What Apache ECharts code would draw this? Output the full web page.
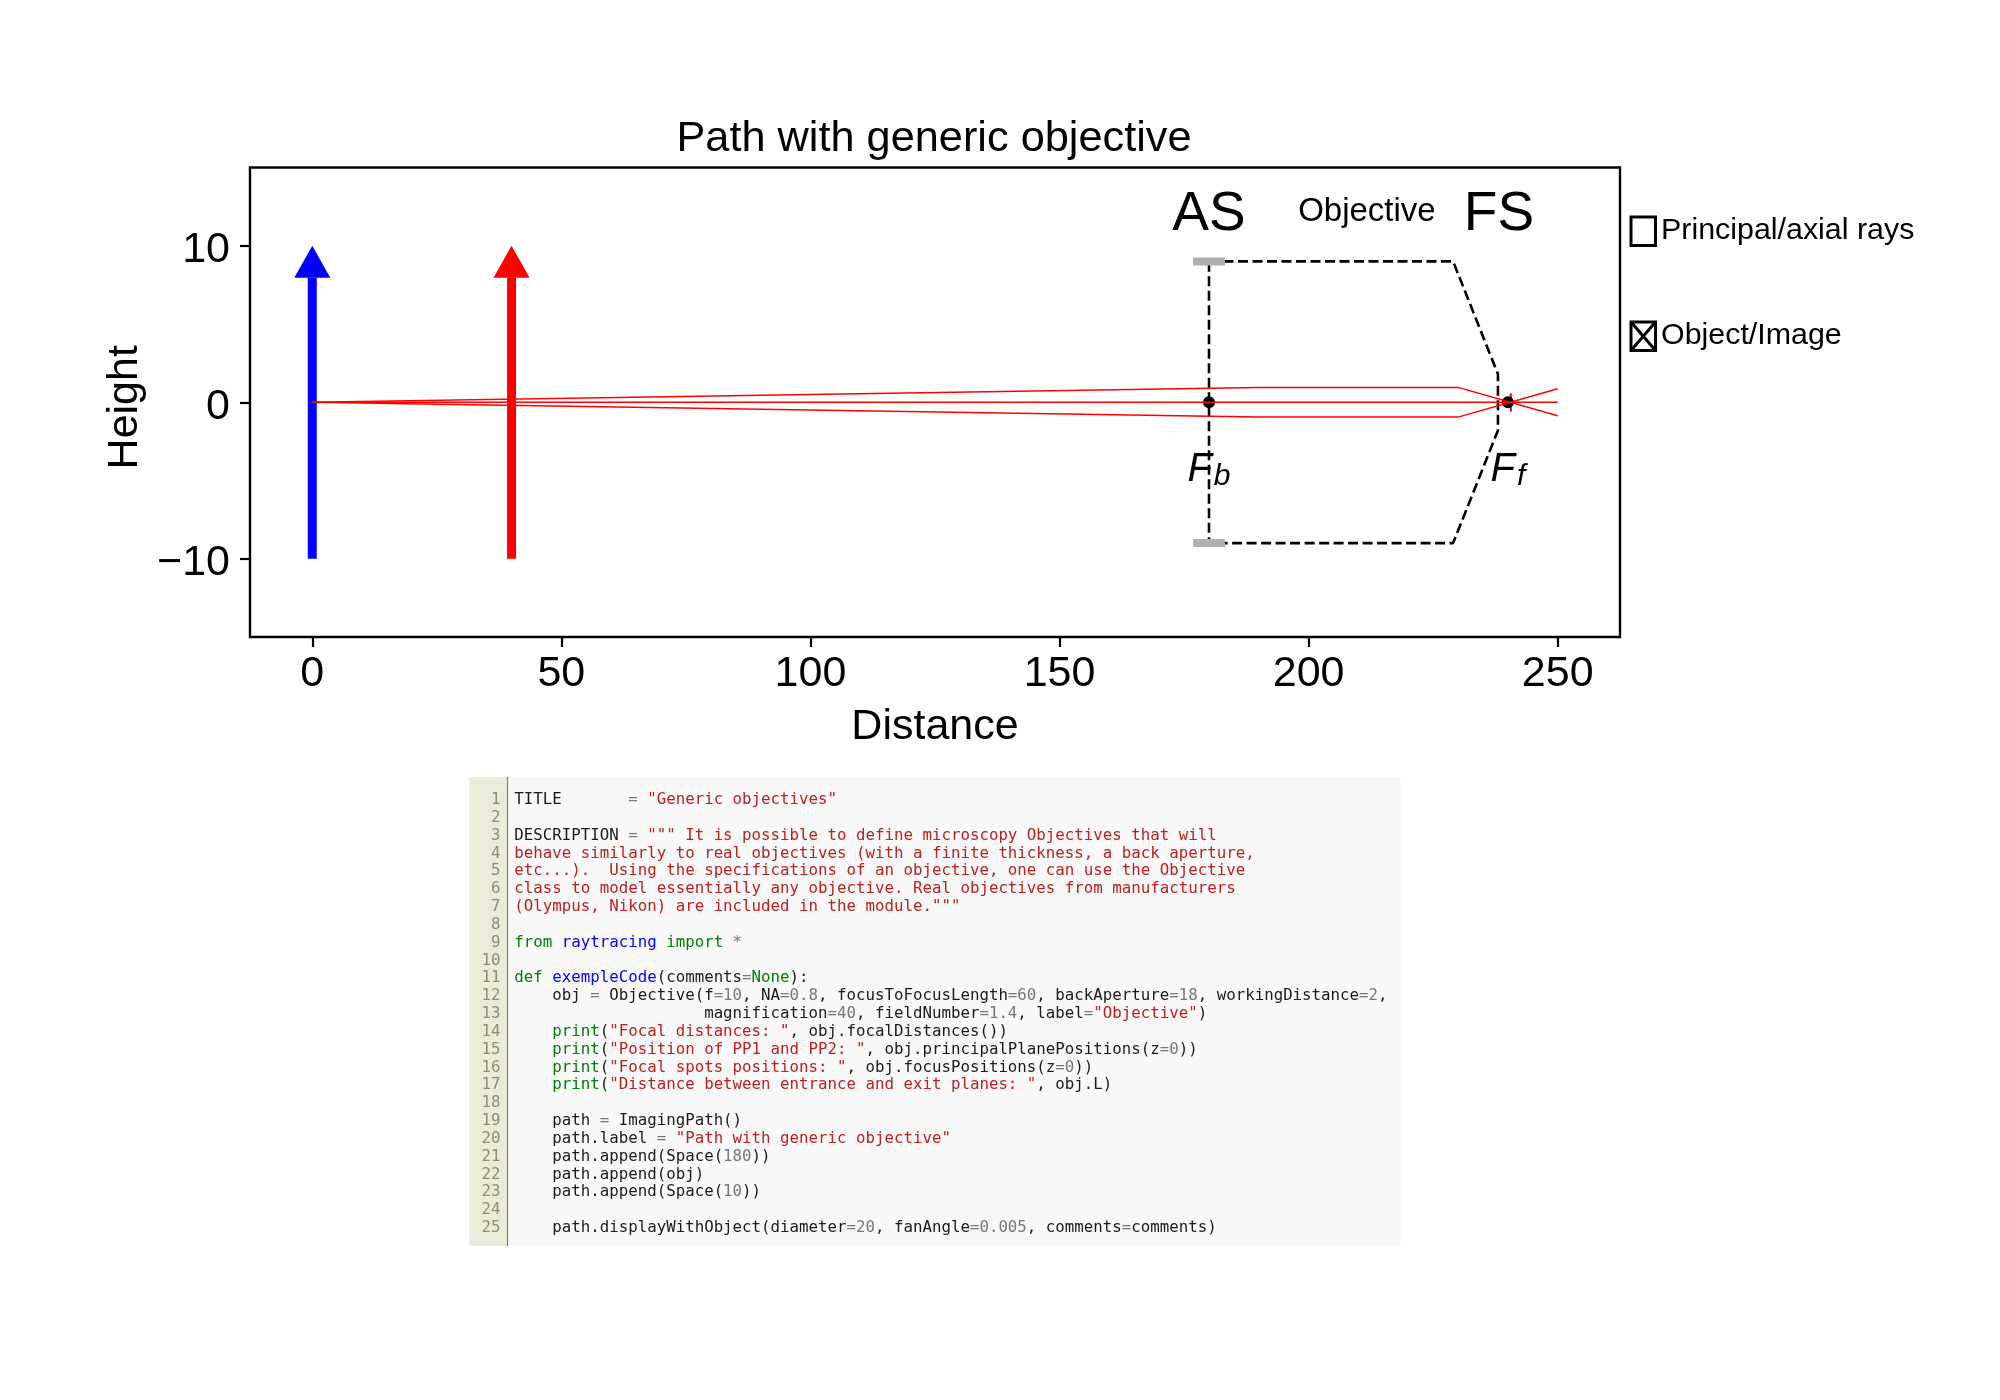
<!DOCTYPE html>
<html>
<head>
<meta charset="utf-8">
<style>html,body{margin:0;background:#fff}#chart{width:2000px;height:1400px}</style>
<script src="https://cdn.jsdelivr.net/npm/echarts@6/dist/echarts.min.js"></script>
</head>
<body>
<div id="chart"></div>
<script>
var xTicks = [0, 50, 100, 150, 200, 250];
var yTicks = [-10, 0, 10];

// rays through the system
var rayUpper = [[0, 0], [190, 0.95], [230, 0.95], [250, -0.86]];
var rayAxial = [[0, 0], [250, 0]];
var rayLower = [[0, 0], [190, -0.95], [230, -0.95], [250, 0.86]];

// objective outline and aperture stops
var objectiveOutline = [[180, 9], [229, 9], [238, 1.8], [238, -1.8], [229, -9], [180, -9], [180, 9]];
var stopTop = [[176.8, 9], [183.2, 9]];
var stopBottom = [[176.8, -9], [183.2, -9]];
var focusPoints = [[180, 0], [240, 0]];

// x, y bottom, y top
var objectArrow = [[0, -10, 10]];
var imageArrow = [[40, -10, 10]];
var focusArrow = [[240.6, -0.6, 0.6]];

var codeLines = [
  [['k', 'TITLE       '], ['o', '= '], ['s', '"Generic objectives"']],
  [],
  [['k', 'DESCRIPTION '], ['o', '= '], ['s', '""" It is possible to define microscopy Objectives that will']],
  [['s', 'behave similarly to real objectives (with a finite thickness, a back aperture,']],
  [['s', 'etc...).  Using the specifications of an objective, one can use the Objective']],
  [['s', 'class to model essentially any objective. Real objectives from manufacturers']],
  [['s', '(Olympus, Nikon) are included in the module."""']],
  [],
  [['g', 'from '], ['b', 'raytracing '], ['g', 'import '], ['o', '*']],
  [],
  [['g', 'def '], ['b', 'exempleCode'], ['k', '(comments'], ['o', '='], ['g', 'None'], ['k', '):']],
  [['k', '    obj '], ['o', '= '], ['k', 'Objective(f'], ['o', '=10'], ['k', ', NA'], ['o', '=0.8'], ['k', ', focusToFocusLength'], ['o', '=60'], ['k', ', backAperture'], ['o', '=18'], ['k', ', workingDistance'], ['o', '=2'], ['k', ',']],
  [['k', '                    magnification'], ['o', '=40'], ['k', ', fieldNumber'], ['o', '=1.4'], ['k', ', label'], ['o', '='], ['s', '"Objective"'], ['k', ')']],
  [['g', '    print'], ['k', '('], ['s', '"Focal distances: "'], ['k', ', obj.focalDistances())']],
  [['g', '    print'], ['k', '('], ['s', '"Position of PP1 and PP2: "'], ['k', ', obj.principalPlanePositions(z'], ['o', '=0'], ['k', '))']],
  [['g', '    print'], ['k', '('], ['s', '"Focal spots positions: "'], ['k', ', obj.focusPositions(z'], ['o', '=0'], ['k', '))']],
  [['g', '    print'], ['k', '('], ['s', '"Distance between entrance and exit planes: "'], ['k', ', obj.L)']],
  [],
  [['k', '    path '], ['o', '= '], ['k', 'ImagingPath()']],
  [['k', '    path.label '], ['o', '= '], ['s', '"Path with generic objective"']],
  [['k', '    path.append(Space('], ['o', '180'], ['k', '))']],
  [['k', '    path.append(obj)']],
  [['k', '    path.append(Space('], ['o', '10'], ['k', '))']],
  [],
  [['k', '    path.displayWithObject(diameter'], ['o', '=20'], ['k', ', fanAngle'], ['o', '=0.005'], ['k', ', comments'], ['o', '='], ['k', 'comments)']]
];

var sansFont = '"Liberation Sans", Helvetica, Arial, sans-serif';
var monoFont = '"DejaVu Sans Mono", monospace';
var codeColors = { k: '#1a1a1a', o: '#777777', s: '#BA2121', g: '#008000', b: '#0000FF' };

function raySeries(data) {
  return { type: 'line', data: data, showSymbol: false, silent: true, z: 4, lineStyle: { color: '#ff0000', width: 1.5 } };
}

function stopSeries(data) {
  return { type: 'line', data: data, showSymbol: false, silent: true, z: 5, lineStyle: { color: '#b0b0b0', width: 8, cap: 'butt' } };
}

// vertical arrow: shaft plus triangular head, sizes in pixels
function arrowSeries(data, color, shaftW, headW, headH) {
  return {
    type: 'custom',
    data: data,
    z: 3,
    silent: true,
    renderItem: function (params, api) {
      var bottom = api.coord([api.value(0), api.value(1)]);
      var top = api.coord([api.value(0), api.value(2)]);
      return {
        type: 'group',
        children: [
          { type: 'rect', shape: { x: bottom[0] - shaftW / 2, y: top[1] + headH, width: shaftW, height: bottom[1] - top[1] - headH }, style: { fill: color } },
          { type: 'polygon', shape: { points: [[top[0], top[1]], [top[0] - headW / 2, top[1] + headH], [top[0] + headW / 2, top[1] + headH]] }, style: { fill: color } }
        ]
      };
    },
    encode: { x: 0, y: [1, 2] }
  };
}

function note(x, y, text, size) {
  return { value: [x, y], label: { formatter: text, fontSize: size, color: '#000' } };
}

var codeGraphics = [
  { type: 'rect', shape: { x: 469.5, y: 777, width: 931, height: 469 }, style: { fill: '#f8f8f8' } },
  { type: 'rect', shape: { x: 469.5, y: 777, width: 38, height: 469 }, style: { fill: '#ebebd9' } },
  { type: 'line', shape: { x1: 507.5, y1: 777, x2: 507.5, y2: 1246 }, style: { stroke: '#85856b', lineWidth: 1.2 } }
];

var codeRich = {};
Object.keys(codeColors).forEach(function (key) {
  codeRich[key] = { fill: codeColors[key], font: '15.78px ' + monoFont };
});

codeLines.forEach(function (tokens, i) {
  var y = 800 + i * 17.83;
  codeGraphics.push({
    type: 'text',
    style: { x: 500.5, y: y, text: String(i + 1), fill: '#8f8f6f', font: '15.78px ' + monoFont, textAlign: 'right', textVerticalAlign: 'middle' }
  });
  if (!tokens.length) return;
  codeGraphics.push({
    type: 'text',
    style: {
      x: 514.3,
      y: y,
      text: tokens.map(function (t) { return '{' + t[0] + '|' + t[1] + '}'; }).join(''),
      rich: codeRich,
      textVerticalAlign: 'middle'
    }
  });
});

function checkBox(y, label, crossed) {
  var items = [
    { type: 'rect', shape: { x: 1631, y: y, width: 24.5, height: 28.5 }, style: { fill: 'none', stroke: '#000', lineWidth: 3 } },
    { type: 'text', style: { x: 1661, y: y + 14, text: label, fill: '#000', font: '30.4px ' + sansFont, textVerticalAlign: 'middle' } }
  ];
  if (crossed) {
    items.push(
      { type: 'line', shape: { x1: 1631, y1: y, x2: 1655.5, y2: y + 28.5 }, style: { stroke: '#000', lineWidth: 3 } },
      { type: 'line', shape: { x1: 1655.5, y1: y, x2: 1631, y2: y + 28.5 }, style: { stroke: '#000', lineWidth: 3 } }
    );
  }
  return items;
}

var option = {
  animation: false,
  backgroundColor: '#fff',
  textStyle: { fontFamily: sansFont, color: '#000' },
  title: {
    text: 'Path with generic objective',
    left: 929,
    top: 113,
    textAlign: 'center',
    textStyle: { fontFamily: sansFont, fontSize: 43.3, fontWeight: 'normal', color: '#000' }
  },
  grid: { left: 250, top: 167.5, width: 1370, height: 469.5, show: true, borderColor: '#000', borderWidth: 2.4, z: 10 },
  xAxis: {
    type: 'value',
    min: -12.5,
    max: 262.5,
    name: 'Distance',
    nameLocation: 'middle',
    nameGap: 68.5,
    nameTextStyle: { fontSize: 43, color: '#000', fontFamily: sansFont },
    splitLine: { show: false },
    axisLine: { show: false, onZero: false },
    axisTick: { show: true, length: 10, customValues: xTicks, lineStyle: { color: '#000', width: 2.2 } },
    axisLabel: { show: true, fontSize: 43, color: '#000', margin: 16, customValues: xTicks }
  },
  yAxis: {
    type: 'value',
    min: -15,
    max: 15,
    name: 'Height',
    nameLocation: 'middle',
    nameGap: 100,
    nameTextStyle: { fontSize: 43, color: '#000', fontFamily: sansFont, padding: [0, 10, 0, 0] },
    splitLine: { show: false },
    axisLine: { show: false, onZero: false },
    axisTick: { show: true, length: 10, customValues: yTicks, lineStyle: { color: '#000', width: 2.2 } },
    axisLabel: {
      show: true, fontSize: 43, color: '#000', margin: 20, customValues: yTicks,
      formatter: function (v) { return '{t|' + (v < 0 ? '\u2212' + Math.abs(v) : v) + '}'; },
      rich: { t: { fontSize: 43, color: '#000', fontFamily: sansFont, padding: [9, 0, 0, 0] } }
    }
  },
  series: [
    arrowSeries(objectArrow, '#0000ff', 9, 36, 32),
    arrowSeries(imageArrow, '#ff0000', 9, 36, 32),
    raySeries(rayUpper),
    raySeries(rayAxial),
    raySeries(rayLower),
    arrowSeries(focusArrow, '#ff0000', 2, 4, 3),
    { type: 'line', data: objectiveOutline, showSymbol: false, silent: true, z: 3, lineStyle: { color: '#000', width: 2.6, type: [10, 4.5] } },
    stopSeries(stopTop),
    stopSeries(stopBottom),
    { type: 'scatter', data: focusPoints, symbolSize: 12, silent: true, z: 3, itemStyle: { color: '#000', opacity: 1 } },
    {
      type: 'scatter',
      symbolSize: 0,
      silent: true,
      z: 6,
      itemStyle: { opacity: 1 },
      label: {
        show: true,
        position: 'inside',
        color: '#000',
        fontFamily: sansFont,
        rich: {
          f: { fontFamily: sansFont, fontStyle: 'italic', fontSize: 40, color: '#000' },
          sub: { fontFamily: sansFont, fontStyle: 'italic', fontSize: 30, color: '#000', padding: [14, 0, 0, 2] }
        }
      },
      data: [
        note(180, 11.95, 'AS', 55),
        note(238.2, 11.95, 'FS', 55),
        note(211.7, 12.15, 'Objective', 33),
        note(180, -4.3, '{f|F}{sub|b}', 40),
        note(240, -4.3, '{f|F}{sub|f}', 40)
      ]
    }
  ],
  graphic: codeGraphics.concat(checkBox(217, 'Principal/axial rays', false), checkBox(322, 'Object/Image', true))
};

var chart = echarts.init(document.getElementById('chart'));
chart.setOption(option);
</script>
</body>
</html>
